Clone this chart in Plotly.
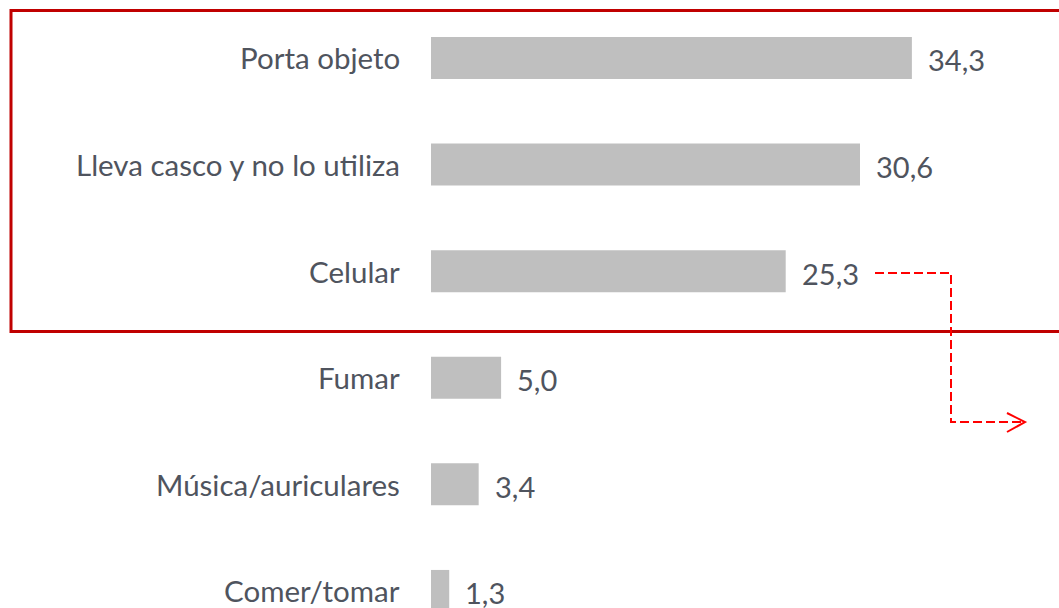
import plotly.graph_objects as go

categories = ["Porta objeto", "Lleva casco y no lo utiliza", "Celular", "Fumar",
              "Música/auriculares", "Comer/tomar"]
values = [34.3, 30.6, 25.3, 5.0, 3.4, 1.3]
value_labels = ["34,3", "30,6", "25,3", "5,0", "3,4", "1,3"]

W, H = 1059, 608
FONT = "Lato"
TXT = "#4F545E"

fig = go.Figure()
fig.add_trace(go.Bar(
    x=values, y=categories, orientation="h",
    marker=dict(color="#BFBFBF", line=dict(width=0)),
    width=0.394, hoverinfo="skip",
))

for c, v, t in zip(categories, values, value_labels):
    fig.add_annotation(x=v, y=c, text=t, showarrow=False, xanchor="left",
                       xshift=14, yshift=-2, font=dict(family=FONT, size=29, color=TXT))
    fig.add_annotation(x=0, y=c, text=c, showarrow=False, xanchor="right",
                       xshift=-29, font=dict(family=FONT, size=29.5, color=TXT))

def px(x):
    return x / W

def py(y):
    return 1 - y / H

# red highlight box
fig.add_shape(type="rect", xref="paper", yref="paper",
              x0=px(11), x1=px(1065), y0=py(10.5), y1=py(331.5),
              line=dict(color="#C00000", width=3), fillcolor="rgba(0,0,0,0)")
# dashed arrow
path = (f"M {px(875)},{py(273)} L {px(951)},{py(273)} L {px(951)},{py(422)} "
        f"L {px(1024)},{py(422)}")
fig.add_shape(type="path", xref="paper", yref="paper", path=path,
              line=dict(color="#FF0000", width=2, dash="9px,4px"))
head = f"M {px(1007)},{py(413)} L {px(1025)},{py(422)} L {px(1007)},{py(432)}"
fig.add_shape(type="path", xref="paper", yref="paper", path=head,
              line=dict(color="#FF0000", width=2))

px_per_unit = 14.02
fig.update_layout(
    width=W, height=H,
    margin=dict(l=0, r=0, t=0, b=0),
    paper_bgcolor="white", plot_bgcolor="white",
    showlegend=False,
    xaxis=dict(range=[-431 / px_per_unit, (W - 431) / px_per_unit], visible=False),
    yaxis=dict(range=[5.16, -0.544], visible=False, categoryorder="array",
               categoryarray=categories),
)
fig.write_html("out.html", config={"displayModeBar": False},
               post_script="document.body.style.margin='0';document.body.style.overflow='hidden';")
